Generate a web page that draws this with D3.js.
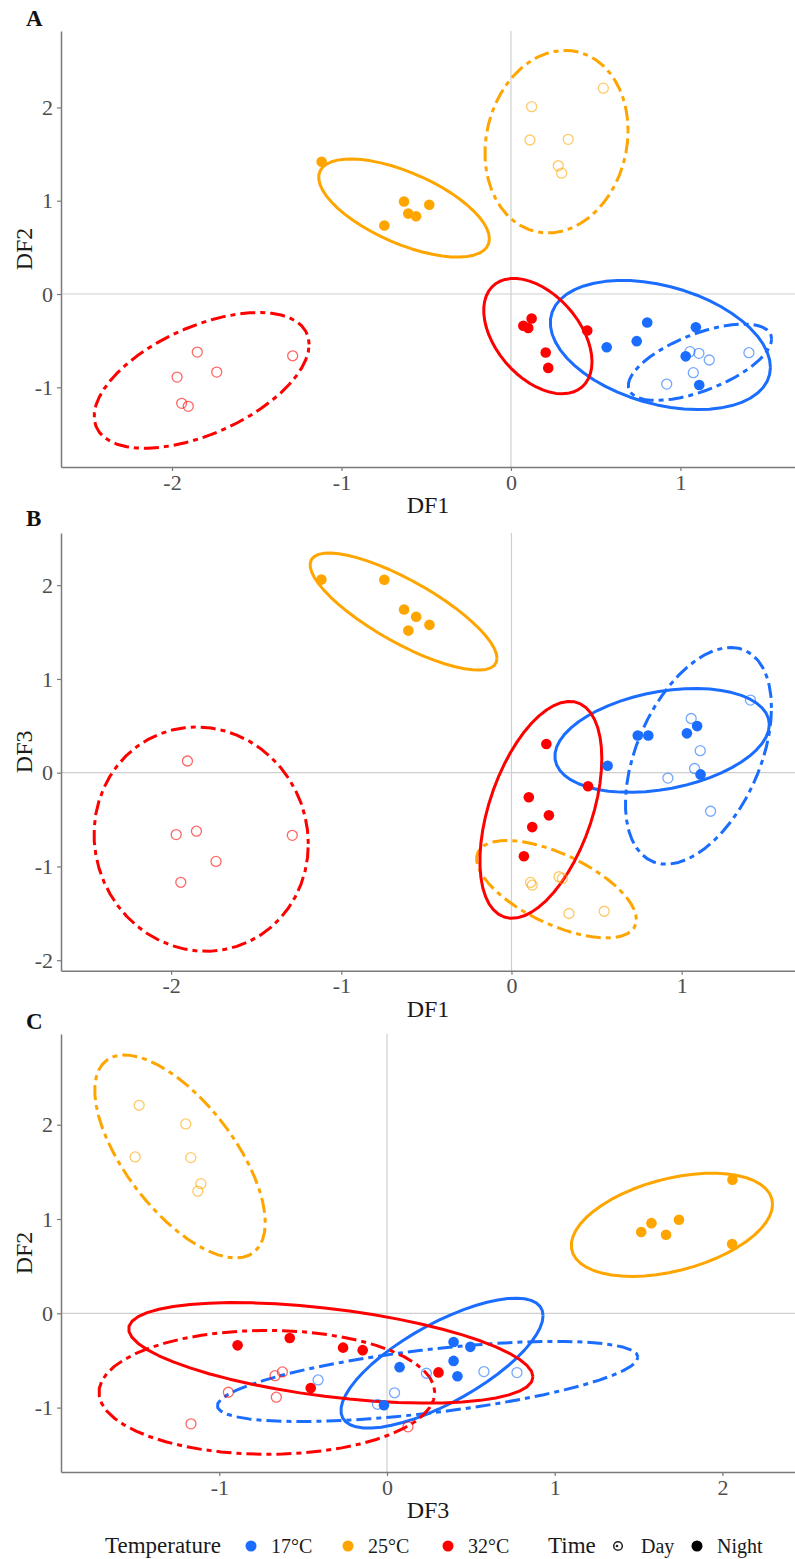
<!DOCTYPE html>
<html><head><meta charset="utf-8">
<script src="https://cdn.jsdelivr.net/npm/d3@7"></script>
<style>
body{margin:0;background:#fff}
svg{display:block}
text{font-family:"Liberation Serif","Times New Roman",serif}
</style>
</head><body>
<svg id="chart" width="795" height="1559"></svg>
<script>
// ---------------- DATA ----------------
const temperatures = ["17°C", "25°C", "32°C"];
const times = ["Day", "Night"];
const tempColors = ["#1A6DFF", "#FFA500", "#FF0000"];

// 36 samples: temperature & time of each sample
const sampleTemp = ["17°C","17°C","17°C","17°C","17°C","17°C",
                    "17°C","17°C","17°C","17°C","17°C","17°C",
                    "25°C","25°C","25°C","25°C","25°C","25°C",
                    "25°C","25°C","25°C","25°C","25°C","25°C",
                    "32°C","32°C","32°C","32°C","32°C","32°C",
                    "32°C","32°C","32°C","32°C","32°C","32°C"];
const sampleTime = ["Day","Day","Day","Day","Day","Day",
                    "Night","Night","Night","Night","Night","Night",
                    "Day","Day","Day","Day","Day","Day",
                    "Night","Night","Night","Night","Night","Night",
                    "Day","Day","Day","Day","Day","Day",
                    "Night","Night","Night","Night","Night","Night"];
const df1 = [0.919, 1.056, 1.109, 1.170, 1.076, 1.404,
             0.565, 0.742, 0.804, 1.091, 1.031, 1.111,
             0.122, 0.112, 0.338, 0.279, 0.299, 0.545,
             -1.117, -0.747, -0.631, -0.606, -0.560, -0.482,
             -1.851, -1.736, -1.970, -1.943, -1.904, -1.288,
             0.122, 0.073, 0.102, 0.205, 0.220, 0.450];
const df2 = [-0.965, -0.618, -0.636, -0.707, -0.843, -0.629,
             -0.571, -0.505, -0.305, -0.356, -0.668, -0.975,
             2.008, 1.651, 1.658, 1.375, 1.295, 2.206,
             1.417, 0.735, 0.992, 0.862, 0.833, 0.956,
             -0.622, -0.837, -0.890, -1.172, -1.204, -0.662,
             -0.262, -0.340, -0.364, -0.627, -0.792, -0.391];
const df3 = [-0.057, 0.578, 0.235, -0.411, 0.045, 0.775,
             0.075, 0.397, 0.397, 0.497, 0.420, -0.018,
             -1.200, -1.170, -1.502, -1.110, -1.128, -1.478,
             2.060, 2.058, 1.741, 1.516, 1.664, 1.577,
             -0.624, -0.946, -0.660, -1.169, 0.125, -0.668,
             -0.580, -0.891, -0.262, 0.307, -0.455, -0.145];

// axis ticks per panel
const panelLabels = ["A", "B", "C"];
const xVars = ["DF1", "DF1", "DF3"];
const yVars = ["DF2", "DF3", "DF2"];
const xTickValues = [[-2, -1, 0, 1], [-2, -1, 0, 1], [-1, 0, 1, 2]];
const yTickValues = [[-1, 0, 1, 2], [-2, -1, 0, 1, 2], [-1, 0, 1, 2]];
const xLimits = [[-2.655, 1.676], [-2.647, 1.666], [-1.944, 2.433]];
const yLimits = [[-1.854, 2.819], [-2.112, 2.557], [-1.683, 2.962]];

// ---------------- LAYOUT ----------------
const W = 795;
const plotLeft = 61, plotRight = 795;
const panelTops = [31, 533, 1034];
const panelBottoms = [467, 970.7, 1472];
const labelBaselines = [26, 526, 1029];

const samples = df1.map((_, i) => ({
  temp: sampleTemp[i], time: sampleTime[i],
  DF1: df1[i], DF2: df2[i], DF3: df3[i]
}));
const color = d3.scaleOrdinal().domain(temperatures).range(tempColors);

// ---- robust t covariance (MASS::cov.trob) as used by ggplot2 stat_ellipse ----
function covTrob(pts, nu = 5, maxit = 25, tol = 0.01) {
  const n = pts.length, p = 2;
  let loc = [d3.mean(pts, d => d[0]), d3.mean(pts, d => d[1])];
  let w = new Array(n).fill(1);
  let X;
  for (let iter = 0; iter < maxit; iter++) {
    const w0 = w.slice();
    X = pts.map(d => [d[0] - loc[0], d[1] - loc[1]]);
    const sw = d3.sum(w);
    let a = 0, b = 0, c = 0;
    X.forEach((r, i) => { const f = w[i] / sw; a += f * r[0] * r[0]; b += f * r[0] * r[1]; c += f * r[1] * r[1]; });
    const det = a * c - b * b;
    const ia = c / det, ib = -b / det, ic = a / det;
    const Q = X.map(r => ia * r[0] * r[0] + 2 * ib * r[0] * r[1] + ic * r[1] * r[1]);
    w = Q.map(q => (nu + p) / (nu + q));
    const sw2 = d3.sum(w);
    loc = [d3.sum(pts, (d, i) => w[i] * d[0]) / sw2, d3.sum(pts, (d, i) => w[i] * d[1]) / sw2];
    if (w.every((v, i) => Math.abs(v - w0[i]) < tol)) break;
  }
  let a = 0, b = 0, c = 0;
  X.forEach((r, i) => { a += w[i] * r[0] * r[0]; b += w[i] * r[0] * r[1]; c += w[i] * r[1] * r[1]; });
  return {cov: [a / n, b / n, c / n], center: loc};
}
function ellipsePoints(pts, level = 0.95, segments = 51) {
  const {cov, center} = covTrob(pts);
  const dfd = pts.length - 1;
  const qf = (dfd / 2) * (Math.pow(1 - level, -2 / dfd) - 1); // F(2, dfd) quantile
  const radius = Math.sqrt(2 * qf);
  const r11 = Math.sqrt(cov[0]), r12 = cov[1] / r11, r22 = Math.sqrt(Math.max(cov[2] - r12 * r12, 0));
  return d3.range(segments + 1).map(k => {
    const t = k * 2 * Math.PI / segments, u = Math.cos(t), v = Math.sin(t);
    return [center[0] + radius * u * r11, center[1] + radius * (u * r12 + v * r22)];
  });
}

const svg = d3.select("#chart");
svg.append("rect").attr("width", W).attr("height", 1559).attr("fill", "#fff");

panelLabels.forEach((lab, pi) => {
  const xv = xVars[pi], yv = yVars[pi];
  const top = panelTops[pi], bottom = panelBottoms[pi];
  const x = d3.scaleLinear().domain(xLimits[pi]).range([plotLeft, plotRight]);
  const y = d3.scaleLinear().domain(yLimits[pi]).range([bottom, top]);
  const g = svg.append("g");

  const clipId = "clip" + pi;
  svg.append("clipPath").attr("id", clipId).append("rect")
    .attr("x", plotLeft).attr("y", top).attr("width", plotRight - plotLeft).attr("height", bottom - top);
  const body = g.append("g").attr("clip-path", `url(#${clipId})`);

  // reference lines at 0
  body.append("line").attr("x1", x(0)).attr("x2", x(0)).attr("y1", top).attr("y2", bottom)
    .attr("stroke", "#cfcfcf").attr("stroke-width", 1.2);
  body.append("line").attr("x1", plotLeft).attr("x2", plotRight).attr("y1", y(0)).attr("y2", y(0))
    .attr("stroke", "#cfcfcf").attr("stroke-width", 1.2);

  // ellipses (95% t ellipses per temperature x time group)
  const line = d3.line().x(d => x(d[0])).y(d => y(d[1]));
  temperatures.forEach(t => {
    times.forEach(tm => {
      const pts = samples.filter(s => s.temp === t && s.time === tm).map(s => [s[xv], s[yv]]);
      body.append("path").attr("d", line(ellipsePoints(pts)))
        .attr("fill", "none").attr("stroke", color(t)).attr("stroke-width", 3)
        .attr("stroke-linejoin", "round")
        .attr("stroke-dasharray", tm === "Day" ? "5,5,15,5" : null);
    });
  });

  // points
  body.selectAll("circle.pt").data(samples).join("circle").attr("class", "pt")
    .attr("cx", d => x(d[xv])).attr("cy", d => y(d[yv]))
    .attr("r", d => d.time === "Night" ? 5.3 : 5)
    .attr("fill", d => d.time === "Night" ? color(d.temp) : "none")
    .attr("stroke", d => d.time === "Night" ? "none" : color(d.temp))
    .attr("stroke-opacity", 0.6)
    .attr("stroke-width", 1.3);

  // axes
  const xAxis = g.append("g").attr("transform", `translate(0,${bottom})`)
    .call(d3.axisBottom(x).tickValues(xTickValues[pi]).tickFormat(d => String(d)).tickSize(4).tickSizeOuter(0).tickPadding(3));
  const yAxis = g.append("g").attr("transform", `translate(${plotLeft},0)`)
    .call(d3.axisLeft(y).tickValues(yTickValues[pi]).tickFormat(d => String(d)).tickSize(4).tickSizeOuter(0).tickPadding(4));
  [xAxis, yAxis].forEach(a => {
    a.select(".domain").attr("stroke", "#7a7a7a").attr("stroke-width", 1.5);
    a.selectAll(".tick line").attr("stroke", "#7a7a7a").attr("stroke-width", 1.2);
    a.selectAll(".tick text").attr("fill", "#4d4d4d").style("font-size", "22px")
      .style("font-family", '"Liberation Serif","Times New Roman",serif');
  });

  // axis titles
  g.append("text").attr("x", (plotLeft + plotRight) / 2).attr("y", bottom + 46)
    .attr("text-anchor", "middle").style("font-size", "24px").attr("fill", "#1a1a1a").text(xv);
  g.append("text").attr("transform", `translate(32,${(top + bottom) / 2}) rotate(-90)`)
    .attr("text-anchor", "middle").style("font-size", "24px").attr("fill", "#1a1a1a").text(yv);

  // panel label
  g.append("text").attr("x", 26).attr("y", labelBaselines[pi])
    .style("font-size", "23px").style("font-weight", "bold").attr("fill", "#111").text(lab);
});

// ---------------- LEGEND ----------------
const ly = 1546;
const leg = svg.append("g");
leg.append("text").attr("x", 105).attr("y", ly + 7).style("font-size", "23px").attr("fill", "#1a1a1a").text("Temperature");
const tempKeyX = [251, 348, 448];
const tempLabelX = [271, 368, 468];
temperatures.forEach((t, i) => {
  leg.append("circle").attr("cx", tempKeyX[i]).attr("cy", ly).attr("r", 5.5).attr("fill", color(t));
  leg.append("text").attr("x", tempLabelX[i]).attr("y", ly + 7).style("font-size", "20px").attr("fill", "#1a1a1a").text(t);
});
leg.append("text").attr("x", 548).attr("y", ly + 7).style("font-size", "23px").attr("fill", "#1a1a1a").text("Time");
const timeKeyX = [618, 697];
const timeLabelX = [641, 717];
times.forEach((tm, i) => {
  if (tm === "Day") {
    leg.append("circle").attr("cx", timeKeyX[i]).attr("cy", ly).attr("r", 4.3)
      .attr("fill", "none").attr("stroke", "#222").attr("stroke-width", 1.5);
    leg.append("circle").attr("cx", timeKeyX[i] - 1).attr("cy", ly).attr("r", 1.3).attr("fill", "#222");
  } else {
    leg.append("circle").attr("cx", timeKeyX[i]).attr("cy", ly).attr("r", 5.5).attr("fill", "#000");
  }
  leg.append("text").attr("x", timeLabelX[i]).attr("y", ly + 7).style("font-size", "20px").attr("fill", "#1a1a1a").text(tm);
});
</script>
</body></html>
